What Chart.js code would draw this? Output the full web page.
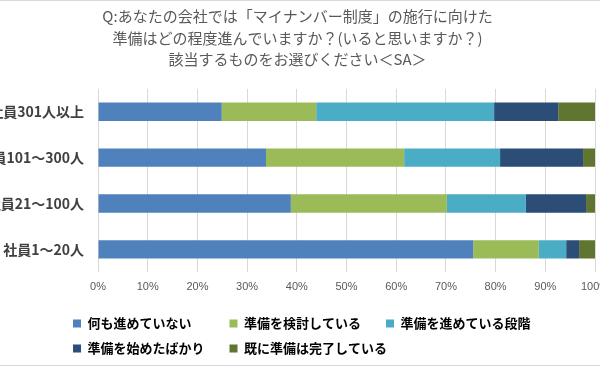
<!DOCTYPE html>
<html>
<head>
<meta charset="utf-8">
<script src="https://cdn.jsdelivr.net/npm/chart.js@4/dist/chart.umd.min.js"></script>
<style>
  body { margin: 0; background: #fff; }
  #wrap { width: 600px; height: 364px; border-top: 1px solid #d9d9d9; border-bottom: 1px solid #d9d9d9; }
  canvas { display: block; }
</style>
</head>
<body>
<div id="wrap"><canvas id="chart" width="600" height="364"></canvas></div>
<script>
const titleLines = [
    "Q:あなたの会社では「マイナンバー制度」の施行に向けた",
    "準備はどの程度進んでいますか？(いると思いますか？)",
    "該当するものをお選びください＜SA＞",
];
const categories = ["社員301人以上", "社員101～300人", "社員21～100人", "社員1～20人"];
const seriesNames = ["何も進めていない", "準備を検討している", "準備を進めている段階", "準備を始めたばかり", "既に準備は完了している"];
const notStarted = [24.9, 33.8, 38.8, 75.5];
const considering = [19.0, 27.8, 31.4, 13.2];
const inProgress = [35.8, 19.3, 15.9, 5.5];
const justStarted = [12.9, 16.7, 12.1, 2.6];
const completed = [7.4, 2.4, 1.8, 3.2];
const seriesColors = ["#4F81BD", "#9BBB59", "#4BACC6", "#2C4D75", "#5F7530"];

Chart.defaults.font.family = "'Noto Sans CJK JP', sans-serif";

const seriesValues = [notStarted, considering, inProgress, justStarted, completed];
const datasets = seriesNames.map((name, i) => ({
    label: name,
    data: seriesValues[i],
    backgroundColor: seriesColors[i],
    borderWidth: 0,
    barPercentage: 0.4,
    categoryPercentage: 1,
}));

// Excel style legend: fixed left start
const legendShift = {
    id: "legendShift",
    afterLayout(chart) {
        chart.legend.left = 61;
    },
};

const ctx = document.getElementById("chart").getContext("2d");
const chart = new Chart(ctx, {
    type: "bar",
    data: { labels: categories, datasets: datasets },
    options: {
        indexAxis: "y",
        responsive: false,
        animation: false,
        layout: { padding: { left: 0, right: 5, top: 0, bottom: 0 } },
        scales: {
            x: {
                stacked: true,
                min: 0,
                max: 100,
                grid: { color: "#d9d9d9", drawTicks: false },
                border: { display: false },
                ticks: {
                    stepSize: 10,
                    padding: 8,
                    color: "#595959",
                    font: { family: "'Liberation Sans', sans-serif", size: 11 },
                    callback: (v) => v + "%",
                },
                afterFit(scale) {
                    scale.paddingLeft = 0;
                    scale.paddingRight = 0;
                    scale.height += 3.5;
                },
            },
            y: {
                stacked: true,
                grid: { display: false, drawTicks: false },
                border: { display: false },
                ticks: {
                    padding: 14,
                    color: "#404040",
                    font: { size: 14, weight: "bold" },
                },
                afterFit(scale) {
                    scale.width = 98;
                },
            },
        },
        plugins: {
            title: {
                display: true,
                text: titleLines,
                color: "#595959",
                font: { size: 15, weight: "normal", lineHeight: 1.43 },
                padding: { top: 5, bottom: 18.5 },
            },
            legend: {
                position: "bottom",
                align: "start",
                labels: {
                    boxWidth: 8,
                    boxHeight: 8,
                    padding: 12,
                    color: "#404040",
                    font: { size: 13, weight: "bold" },
                    generateLabels(chart) {
                        return chart.data.datasets.map((ds, i) => ({
                            text: ds.label.padEnd(10, "\u3000"),
                            fillStyle: ds.backgroundColor,
                            strokeStyle: ds.backgroundColor,
                            lineWidth: 0,
                            hidden: false,
                            datasetIndex: i,
                        }));
                    },
                },
            },
            tooltip: { enabled: false },
        },
    },
    plugins: [legendShift],
});
</script>
</body>
</html>
